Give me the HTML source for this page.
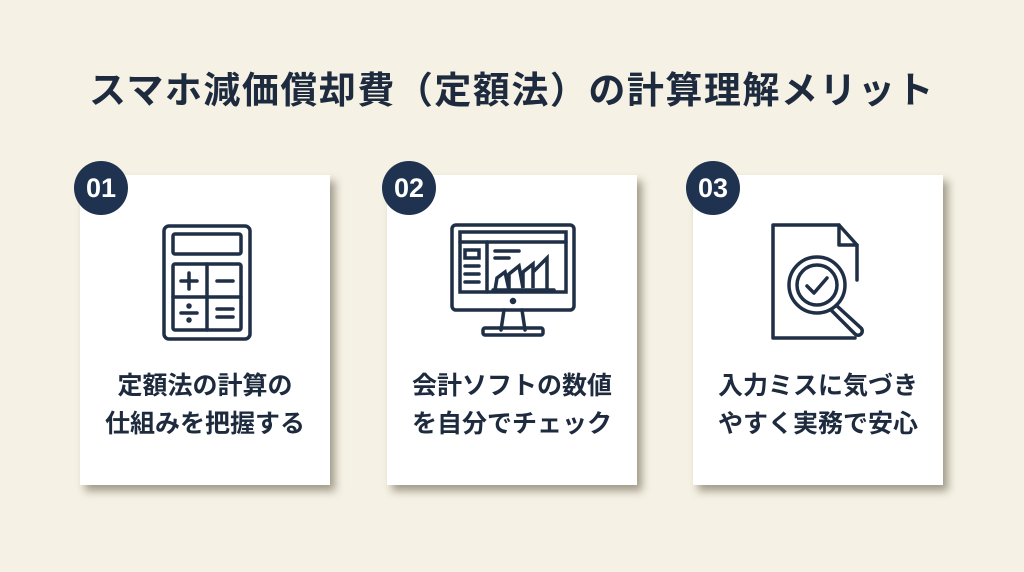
<!DOCTYPE html>
<html><head><meta charset="utf-8"><style>
body{margin:0;width:1024px;height:572px;background:#f5f1e4;font-family:"Liberation Sans","Noto Sans CJK JP",sans-serif;position:relative;overflow:hidden;color:#1e2b3e}
.t{position:absolute;top:60px;left:0;width:1024px;text-align:center;font-size:37px;font-weight:bold;letter-spacing:1.5px}
.c{position:absolute;top:175px;width:250px;height:310px;background:#fff;box-shadow:5px 6px 8px rgba(60,50,30,.45)}
.n{position:absolute;top:161px;width:54px;height:54px;border-radius:50%;background:#1f3350;color:#fff;font-weight:bold;font-size:27px;text-align:center;line-height:54px}
.l{position:absolute;top:192px;left:0;width:250px;text-align:center;font-size:25px;font-weight:bold;line-height:38px}
svg{position:absolute;top:45px}
</style></head><body>
<div class="t">スマホ減価償却費（定額法）の計算理解メリット</div>
<div class="c" style="left:80px">
<svg style="left:80px" width="96" height="125" viewBox="0 0 96 125" fill="none" stroke="#1f2f45" stroke-width="3.5" stroke-linecap="round">
<rect x="4" y="6" width="86" height="113" rx="5"/><rect x="13" y="14" width="68" height="20" rx="2"/>
<rect x="13" y="44" width="68" height="66" rx="2"/><line x1="47" y1="44" x2="47" y2="110"/><line x1="13" y1="77" x2="81" y2="77"/>
<line x1="21" y1="61" x2="37" y2="61"/><line x1="29" y1="53" x2="29" y2="69"/><line x1="57" y1="61" x2="73" y2="61"/>
<line x1="21" y1="93" x2="37" y2="93"/><circle cx="29" cy="86" r="1" fill="#1f2f45"/><circle cx="29" cy="100" r="1" fill="#1f2f45"/>
<line x1="57" y1="89" x2="73" y2="89"/><line x1="57" y1="97" x2="73" y2="97"/></svg>
<div class="l">定額法の計算の<br>仕組みを把握する</div></div>
<div class="c" style="left:387px">
<svg style="left:62px" width="130" height="120" viewBox="0 0 130 120" fill="none" stroke="#1f2f45" stroke-width="3.5" stroke-linecap="round">
<rect x="3" y="5" width="122" height="85" rx="4"/><rect x="11" y="12" width="106" height="60"/><line x1="11" y1="22" x2="117" y2="22"/>
<line x1="38" y1="22" x2="38" y2="72"/><rect x="16" y="30" width="14" height="8"/><line x1="16" y1="46" x2="30" y2="46"/><line x1="16" y1="54" x2="30" y2="54"/><line x1="16" y1="62" x2="30" y2="62"/>
<line x1="46" y1="31" x2="70" y2="31"/><line x1="46" y1="38" x2="60" y2="38"/>
<polyline points="46,70 48,58 56,52 60,70 60,54 70,46 74,68 74,52 84,44 84,68 84,52 98,38 98,68"/><line x1="44" y1="70" x2="105" y2="70"/>
<circle cx="64" cy="81" r="1.5" fill="#1f2f45"/><path d="M55 90 L52 110 M73 90 L76 110"/><rect x="34" y="108" width="60" height="7" rx="2"/></svg>
<div class="l">会計ソフトの数値<br>を自分でチェック</div></div>
<div class="c" style="left:693px">
<svg style="left:76px" width="105" height="125" viewBox="0 0 105 125" fill="none" stroke="#1f2f45" stroke-width="3.5" stroke-linecap="round" stroke-linejoin="round">
<path d="M88 60 V25 L70 5 H4 V118 H86"/><path d="M70 5 V25 H88"/>
<circle cx="48" cy="65" r="28"/><circle cx="48" cy="65" r="20"/><polyline points="38,66 45,73 58,58"/>
<path d="M68 86 L92 108 a4 4 0 0 1 -6 6 L63 91"/></svg>
<div class="l">入力ミスに気づき<br>やすく実務で安心</div></div>
<div class="n" style="left:74px">01</div>
<div class="n" style="left:382px">02</div>
<div class="n" style="left:686px">03</div>
</body></html>
